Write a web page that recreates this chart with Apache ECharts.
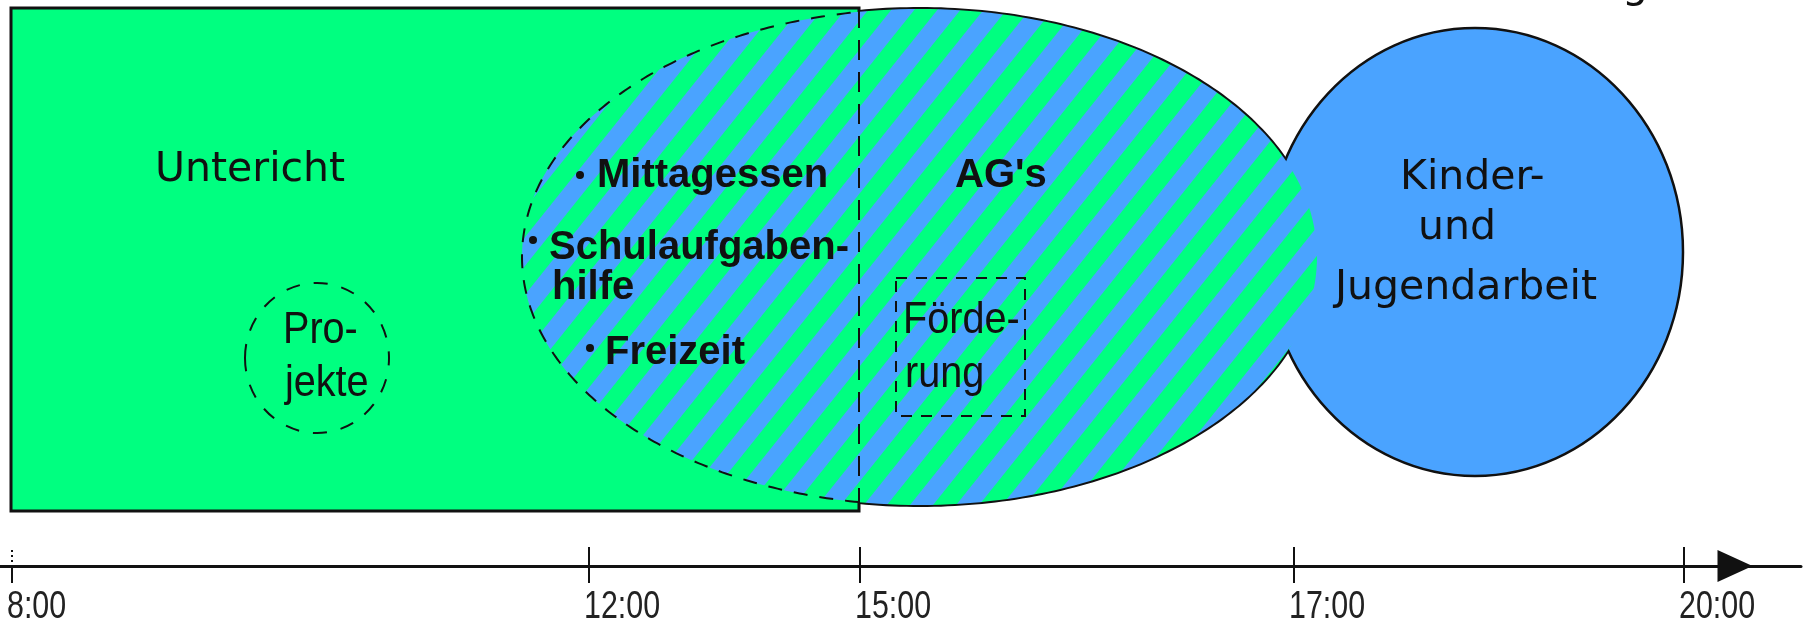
<!DOCTYPE html>
<html><head><meta charset="utf-8">
<script src="https://cdn.jsdelivr.net/npm/echarts@6/dist/echarts.min.js"></script>
<style>html,body{margin:0;padding:0;background:#fff;overflow:hidden}#c{width:1810px;height:625px}</style>
</head><body><div id="c"></div>
<script>
// ---------------- data ----------------
const tickLabels = ['8:00', '12:00', '15:00', '17:00', '20:00'];
const tickPos = [12, 589, 860, 1294, 1684];

// blocks of the day: extents on the timeline (x) and vertical band (y)
const areaNames = ['Untericht', 'Betreuung', 'Kinder- und Jugendarbeit', 'Projekte', 'Förderung'];
const areaX0 = [11, 522, 1267, 245, 896];
const areaX1 = [859, 1317, 1683, 389, 1025];
const areaY0 = [8, 9, 28, 283, 278];
const areaY1 = [511, 505, 476, 433, 416];

// text labels
const labelTexts = ['Untericht', 'Mittagessen', 'Schulaufgaben-', 'hilfe', 'Freizeit', "AG's",
  'Kinder-', 'und', 'Jugendarbeit', 'Pro-', 'jekte', 'Förde-', 'rung', 'g'];
const labelX = [155, 597, 549, 552, 605, 955, 1400, 1418, 1335, 283, 285, 903, 905, 1622];
const labelY = [170, 176, 248, 288, 353, 176, 178, 228, 288, 331, 384, 321, 375, -14];
const labelKind = ['plain', 'bold', 'bold', 'bold', 'bold', 'bold', 'plain', 'plain', 'plain',
  'narrow', 'narrow', 'narrow', 'narrow', 'plain'];

const bulletX = [580, 533, 590];
const bulletY = [175, 240, 348];

// ---------------- styles ----------------
const GREEN = '#00FF80';
const BLUE = '#4AA3FF';
const DARK = '#111111';
const FONTS = {
  plain: { fontFamily: "'DejaVu Sans', Verdana, sans-serif", fontSize: 41, fontWeight: 'normal', scaleX: 1 },
  bold: { fontFamily: "'Liberation Sans', Arial, sans-serif", fontSize: 40, fontWeight: 'bold', scaleX: 1 },
  narrow: { fontFamily: "'Liberation Sans', Arial, sans-serif", fontSize: 44, fontWeight: 'normal', scaleX: 0.9 },
  axis: { fontFamily: "'Liberation Sans', Arial, sans-serif", fontSize: 38, fontWeight: 'normal', scaleX: 0.8 }
};
const STRIPE_ANGLE = 0.675;
const LABEL_SHIFT = -5;
const AXIS_LABEL_Y = 608;

function stripePattern() {
  const c = document.createElement('canvas');
  c.width = 36; c.height = 12;
  const ctx = c.getContext('2d');
  ctx.fillStyle = BLUE; ctx.fillRect(0, 0, 36, 12);
  ctx.fillStyle = GREEN; ctx.fillRect(0, 0, 18, 12);
  return { image: c, repeat: 'repeat', rotation: STRIPE_ANGLE };
}
const pattern = stripePattern();

function arcPoints(api, cx, cy, rx, ry, t1, t2, n) {
  const pts = [];
  for (let i = 0; i <= n; i++) {
    const t = t1 + (t2 - t1) * i / n;
    pts.push(api.coord([cx + rx * Math.cos(t), cy + ry * Math.sin(t)]));
  }
  return pts;
}

function box(api, i) {
  const a = api.coord([areaX0[i], areaY0[i]]);
  const b = api.coord([areaX1[i], areaY1[i]]);
  return { x: a[0], y: a[1], w: b[0] - a[0], h: b[1] - a[1], cx: (a[0] + b[0]) / 2, cy: (a[1] + b[1]) / 2 };
}

function textEl(p, str, f, color) {
  return { type: 'text', x: p[0], y: p[1], scaleX: f.scaleX, style: {
    text: str, fill: color, align: 'left', verticalAlign: 'middle',
    fontFamily: f.fontFamily, fontSize: f.fontSize, fontWeight: f.fontWeight } };
}

function renderAll(params, api) {
  const ch = [];
  const R = box(api, 0), E = box(api, 1), C = box(api, 2), PJ = box(api, 3), F = box(api, 4);
  // main block rectangle
  ch.push({ type: 'rect', shape: { x: R.x, y: R.y, width: R.w, height: R.h },
    style: { fill: GREEN, stroke: DARK, lineWidth: 3 } });
  // ellipse (Betreuung) geometry in data units
  const ecx = (areaX0[1] + areaX1[1]) / 2, ecy = (areaY0[1] + areaY1[1]) / 2;
  const erx = (areaX1[1] - areaX0[1]) / 2, ery = (areaY1[1] - areaY0[1]) / 2;
  const t0 = Math.acos((areaX1[0] - ecx) / erx);
  ch.push({ type: 'polyline', shape: { points: arcPoints(api, ecx, ecy, erx, ery, -t0, t0, 200) },
    style: { fill: null, stroke: DARK, lineWidth: 4 } });
  // circle (Kinder- und Jugendarbeit)
  ch.push({ type: 'ellipse', shape: { cx: C.cx, cy: C.cy, rx: C.w / 2, ry: C.h / 2 },
    style: { fill: BLUE, stroke: DARK, lineWidth: 2.5 } });
  // striped fill of ellipse
  ch.push({ type: 'ellipse', shape: { cx: E.cx, cy: E.cy, rx: E.w / 2, ry: E.h / 2 },
    style: { fill: pattern, stroke: null } });
  // dashed part of ellipse outline (inside the rectangle)
  ch.push({ type: 'polyline', shape: { points: arcPoints(api, ecx, ecy, erx, ery, t0, 2 * Math.PI - t0, 240) },
    style: { fill: null, stroke: DARK, lineWidth: 2, lineDash: [14, 12] } });
  // dashed right edge of rectangle
  ch.push({ type: 'line', shape: { x1: R.x + R.w, y1: R.y, x2: R.x + R.w, y2: R.y + R.h },
    style: { stroke: DARK, lineWidth: 2, lineDash: [20, 12] } });
  // Projekte dashed circle
  ch.push({ type: 'ellipse', shape: { cx: PJ.cx, cy: PJ.cy, rx: PJ.w / 2, ry: PJ.h / 2 },
    style: { fill: null, stroke: DARK, lineWidth: 2, lineDash: [14, 14] } });
  // Förderung dashed box
  ch.push({ type: 'rect', shape: { x: F.x, y: F.y, width: F.w, height: F.h },
    style: { fill: null, stroke: DARK, lineWidth: 2, lineDash: [11, 9] } });
  // bullets
  for (let i = 0; i < bulletX.length; i++) {
    const p = api.coord([bulletX[i], bulletY[i]]);
    ch.push({ type: 'circle', shape: { cx: p[0], cy: p[1], r: 4 }, style: { fill: DARK } });
  }
  // labels
  for (let i = 0; i < labelTexts.length; i++) {
    ch.push(textEl(api.coord([labelX[i], labelY[i]]), labelTexts[i], FONTS[labelKind[i]], DARK));
  }
  // axis ticks crossing the axis line, and their time labels
  for (let i = 0; i < tickPos.length; i++) {
    const a = api.coord([tickPos[i], 547]);
    const b = api.coord([tickPos[i], 583]);
    const m = api.coord([tickPos[i], 566]);
    if (i === 0) {
      ch.push({ type: 'line', shape: { x1: a[0], y1: a[1] + 3, x2: m[0], y2: m[1] - 3 },
        style: { stroke: DARK, lineWidth: 2, lineDash: [2, 3] } });
      ch.push({ type: 'line', shape: { x1: m[0], y1: m[1], x2: b[0], y2: b[1] },
        style: { stroke: DARK, lineWidth: 2 } });
    } else {
      ch.push({ type: 'line', shape: { x1: a[0], y1: a[1], x2: b[0], y2: b[1] },
        style: { stroke: DARK, lineWidth: 2 } });
    }
    ch.push(textEl(api.coord([tickPos[i] + LABEL_SHIFT, AXIS_LABEL_Y]), tickLabels[i], FONTS.axis, '#222'));
  }
  return { type: 'group', children: ch };
}

const chart = echarts.init(document.getElementById('c'), null, { renderer: 'canvas' });
chart.setOption({
  animation: false,
  backgroundColor: '#ffffff',
  grid: { left: 0, top: 0, width: 1801, height: 566, containLabel: false },
  xAxis: {
    type: 'value', min: 0, max: 1801,
    splitLine: { show: false },
    axisTick: { show: false },
    axisLabel: { show: false },
    axisLine: { show: true, onZero: false, lineStyle: { color: DARK, width: 3 },
      symbol: ['none', 'triangle'], symbolSize: [32, 35], symbolOffset: [0, -66] }
  },
  yAxis: { type: 'value', min: 0, max: 566, inverse: true, show: false },
  series: [{
    type: 'custom', name: 'Tagesablauf', coordinateSystem: 'cartesian2d', clip: false,
    data: [[0, 0]], renderItem: renderAll, silent: true
  }]
});
</script></body></html>
